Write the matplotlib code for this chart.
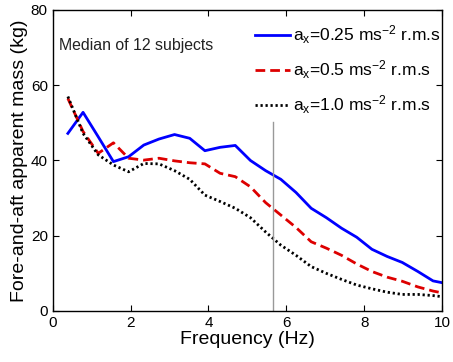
import numpy as np
import matplotlib
matplotlib.use('Agg')
from matplotlib import pyplot as plt

plt.rcParams['font.family'] = ['Liberation Sans', 'DejaVu Sans']
plt.rcParams['mathtext.default'] = 'regular'

freq = [0.39, 0.78, 1.17, 1.56, 1.95, 2.34, 2.73, 3.13, 3.52, 3.91, 4.30, 4.69, 5.08,
        5.47, 5.86, 6.25, 6.64, 7.03, 7.42, 7.81, 8.20, 8.59, 8.98, 9.38, 9.77, 10.16]

mass_025 = [47.2, 52.8, 46.3, 39.7, 41.0, 44.1, 45.7, 46.9, 45.9, 42.6, 43.5, 44.0, 40.0,
            37.3, 35.0, 31.5, 27.3, 24.8, 22.0, 19.6, 16.4, 14.5, 12.9, 10.5, 8.0, 7.2]
mass_05 = [56.5, 47.7, 41.9, 44.7, 40.6, 40.1, 40.6, 39.9, 39.4, 39.1, 36.6, 35.7, 33.0,
           28.8, 25.5, 22.2, 18.4, 16.7, 14.8, 12.5, 10.5, 9.0, 7.9, 6.4, 5.3, 4.5]
mass_10 = [57.0, 47.2, 41.5, 38.8, 37.0, 39.2, 39.1, 37.3, 35.0, 30.8, 29.1, 27.3, 24.8,
           21.0, 17.5, 14.8, 11.8, 10.0, 8.4, 6.9, 5.9, 5.0, 4.4, 4.4, 4.1, 3.6]

labels = [r'a$_x$=0.25 ms$^{-2}$ r.m.s',
          r'a$_x$=0.5 ms$^{-2}$ r.m.s',
          r'a$_x$=1.0 ms$^{-2}$ r.m.s']

marker_freq = 5.65
marker_top = 50.3

fig = plt.figure(figsize=(4.53, 3.62), dpi=100)
ax = fig.add_axes([0.1163, 0.1409, 0.8594, 0.8315])

ax.plot(freq, mass_025, color='#0000ff', lw=2.0, label=labels[0])
ax.plot(freq, mass_05, color='#dd0000', lw=2.0, ls=(0, (3.5, 1.8)), label=labels[1])
ax.plot(freq, mass_10, color='black', lw=2.0, ls=(0, (0.8, 1.0)), label=labels[2])
ax.plot([marker_freq, marker_freq], [0, marker_top], color='#999999', lw=1.0)

ax.set_xlim(0, 10)
ax.set_ylim(0, 80)
ax.set_xticks([0, 2, 4, 6, 8, 10])
ax.set_yticks([0, 20, 40, 60, 80])
ax.tick_params(direction='in', top=True, right=True, labelsize=11, length=4, width=0.8)
for s in ax.spines.values():
    s.set_linewidth(1.0)

ax.set_xlabel('Frequency (Hz)', fontsize=14, labelpad=1)
ax.set_ylabel('Fore-and-aft apparent mass (kg)', fontsize=14, labelpad=2)

ax.text(0.15, 70.5, 'Median of 12 subjects', fontsize=11.4, va='center', ha='left', color='#222222')

ax.legend(loc='upper right', bbox_to_anchor=(1.024, 0.99), frameon=False, fontsize=12.5,
          handlelength=2.0, handletextpad=0.2, labelspacing=0.72, borderaxespad=0.2)

fig.savefig('out.png', dpi=100)
